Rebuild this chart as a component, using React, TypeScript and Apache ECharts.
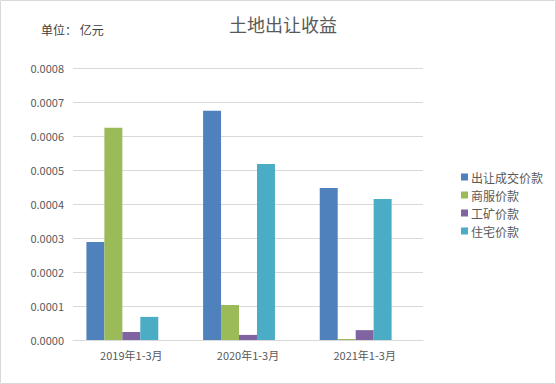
import React, { useEffect, useRef } from "react";
import * as echarts from "echarts";

const categories = ["2019年1-3月", "2020年1-3月", "2021年1-3月"];
const seriesNames = ["出让成交价款", "商服价款", "工矿价款", "住宅价款"];
const chengjiao = [0.000288, 0.000674, 0.000447];
const shangfu = [0.000624, 0.000103, 0.000003];
const gongkuang = [0.0000235, 0.000015, 0.000029];
const zhuzhai = [0.000068, 0.000518, 0.000415];
const spacer: (number | null)[] = [null, null, null];
const colors = ["#4F81BD", "#9BBB59", "#8064A2", "#4BACC6"];
const FONT = "'Noto Sans CJK SC', 'Microsoft YaHei', sans-serif";

export default function App() {
  const ref = useRef<HTMLDivElement>(null);
  useEffect(() => {
    if (!ref.current) return;
    const chart = echarts.init(ref.current, undefined, { renderer: "svg" });
    const values = [chengjiao, shangfu, gongkuang, zhuzhai];
    const series: any[] = values.map((v, i) => ({
      name: seriesNames[i],
      type: "bar",
      data: v,
      barGap: "0%",
      barCategoryGap: "23%",
      itemStyle: { color: colors[i] },
    }));
    series.push({
      name: "spacer",
      type: "bar",
      data: spacer,
      barGap: "0%",
      barCategoryGap: "23%",
      itemStyle: { color: "transparent" },
    });
    chart.setOption({
      animation: false,
      backgroundColor: "#ffffff",
      textStyle: { fontFamily: FONT },
      title: {
        text: "土地出让收益",
        left: 278,
        textAlign: "center",
        top: 10,
        textStyle: { fontSize: 18, fontWeight: "normal", color: "#595959", fontFamily: FONT },
      },
      graphic: [
        {
          type: "rect",
          shape: { x: 0.5, y: 0.5, width: 555, height: 383 },
          style: { fill: "none", stroke: "#d9d9d9", lineWidth: 1 },
          silent: true,
        },
        {
          type: "text",
          left: 41,
          top: 23,
          style: { text: "单位： 亿元", fontSize: 12, fill: "#404040", fontFamily: FONT },
        },
      ],
      legend: {
        data: seriesNames,
        orient: "vertical",
        left: 456,
        top: 166,
        itemWidth: 7,
        itemHeight: 7,
        itemGap: 6,
        icon: "rect",
        textStyle: { fontSize: 12, color: "#595959", fontFamily: FONT, padding: [0, 0, 0, -2] },
      },
      grid: { left: 73, right: 133, top: 68, bottom: 44, containLabel: false },
      xAxis: {
        type: "category",
        data: categories,
        axisTick: { show: false },
        axisLine: { lineStyle: { color: "#d9d9d9" } },
        axisLabel: { color: "#595959", fontSize: 11, margin: 9, fontFamily: FONT },
      },
      yAxis: {
        type: "value",
        min: 0,
        max: 0.0008,
        interval: 0.0001,
        axisLine: { show: false },
        axisTick: { show: false },
        splitLine: { lineStyle: { color: "#d9d9d9" } },
        axisLabel: {
          color: "#595959",
          fontSize: 11,
          margin: 9,
          fontFamily: FONT,
          formatter: (v: number) => v.toFixed(4),
        },
      },
      series,
    });
    return () => chart.dispose();
  }, []);
  return (
    <div
      ref={ref}
      style={{ position: "fixed", left: 0, top: 0, width: 556, height: 384 }}
    />
  );
}
